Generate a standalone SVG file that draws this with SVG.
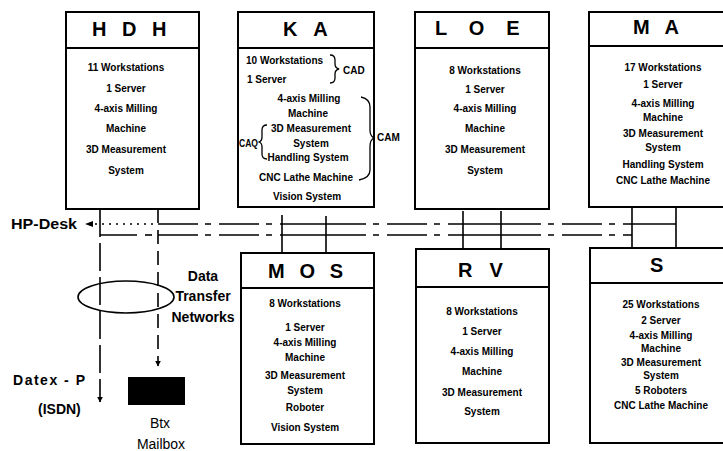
<svg xmlns="http://www.w3.org/2000/svg" width="723" height="451" viewBox="0 0 723 451">
<defs>
<style>
.box{fill:#fff;stroke:#000;stroke-width:2}
.div{stroke:#000;stroke-width:2}
.h{font-family:"Liberation Sans",Arial,sans-serif;font-weight:bold;font-size:20px;fill:#000}
.t{font-family:"Liberation Sans",Arial,sans-serif;font-weight:bold;font-size:10px;fill:#000;text-anchor:middle}
.tl{font-family:"Liberation Sans",Arial,sans-serif;font-weight:bold;font-size:10px;fill:#000}
.lab{font-family:"Liberation Sans",Arial,sans-serif;font-weight:bold;font-size:14px;fill:#000}
.reg{font-family:"Liberation Sans",Arial,sans-serif;font-size:14px;fill:#000;text-anchor:middle}
.ln{stroke:#000;stroke-width:1.6;fill:none}
.dd{stroke-dasharray:40 7 6 8}
.br{stroke:#000;stroke-width:1.3;fill:none}
</style>
<marker id="ah" viewBox="0 0 10 10" refX="9" refY="5" markerWidth="6" markerHeight="7" orient="auto" markerUnits="userSpaceOnUse">
<path d="M0,0 L10,5 L0,10 z" fill="#000"/>
</marker>
</defs>
<rect width="723" height="451" fill="#fff"/>

<g id="connectors">
<path d="M93,221 L85,224 L93,227 z" fill="#000"/>
<line class="ln" x1="95" y1="224" x2="158" y2="224" stroke-dasharray="2 5" stroke-width="1.4"/>
<line class="ln dd" x1="158" y1="224" x2="282" y2="224"/>
<line class="ln" x1="282" y1="224" x2="326" y2="224"/>
<line class="ln dd" x1="326" y1="224" x2="463" y2="224"/>
<line class="ln" x1="463" y1="224" x2="501" y2="224" stroke-width="2.2"/>
<line class="ln dd" x1="501" y1="224" x2="632" y2="224"/>
<line class="ln" x1="632" y1="224" x2="676" y2="224"/>
<line class="ln" x1="100" y1="235" x2="137" y2="235"/>
<line class="ln" x1="145" y1="235" x2="152" y2="235"/>
<line class="ln dd" x1="158" y1="235" x2="282" y2="235"/>
<line class="ln" x1="282" y1="235" x2="326" y2="235"/>
<line class="ln dd" x1="326" y1="235" x2="463" y2="235"/>
<line class="ln" x1="463" y1="235" x2="501" y2="235"/>
<line class="ln dd" x1="501" y1="235" x2="632" y2="235"/>
<line class="ln" x1="282" y1="215" x2="282" y2="253"/>
<line class="ln" x1="326" y1="216" x2="326" y2="253"/>
<line class="ln" x1="463" y1="211" x2="463" y2="249"/>
<line class="ln" x1="501" y1="211" x2="501" y2="249"/>
<line class="ln" x1="632" y1="207" x2="632" y2="248"/>
<line class="ln" x1="676" y1="207" x2="676" y2="248"/>
<line class="ln" x1="100" y1="209" x2="100" y2="402" stroke-dasharray="28 6" marker-end="url(#ah)"/>
<line class="ln" x1="158" y1="209" x2="158" y2="366" stroke-dasharray="14 7" marker-end="url(#ah)"/>
<ellipse cx="126" cy="297" rx="48" ry="16" class="ln" stroke-width="1.5"/>
</g>

<g id="labels">
<text class="lab" x="11" y="229" textLength="66" lengthAdjust="spacingAndGlyphs">HP-Desk</text>
<text class="reg" x="203" y="281" font-weight="bold">Data</text>
<text class="reg" x="203" y="301" font-weight="bold">Transfer</text>
<text class="reg" x="203" y="322" font-weight="bold">Networks</text>
<text class="lab" x="13" y="385" textLength="72" lengthAdjust="spacing">Datex - P</text>
<text class="lab" x="38" y="414">(ISDN)</text>
</g>

<g id="btx">
<rect x="128" y="377" width="57" height="28" fill="#000"/>
<text class="reg" x="160" y="428">Btx</text>
<text class="reg" x="161" y="449">Mailbox</text>
</g>

<g id="HDH">
<rect class="box" x="66" y="12" width="133" height="197"/>
<line class="div" x1="66" y1="48" x2="199" y2="48"/>
<text class="h" x="92" y="36" letter-spacing="5">H D H</text>
<text class="t" x="126" y="70.5">11 Workstations</text>
<text class="t" x="126" y="91.5">1 Server</text>
<text class="t" x="126" y="111.5">4-axis Milling</text>
<text class="t" x="126" y="131.5">Machine</text>
<text class="t" x="126" y="152.5">3D Measurement</text>
<text class="t" x="126" y="173.5">System</text>
</g>

<g id="KA">
<rect class="box" x="238" y="12" width="136" height="195"/>
<line class="div" x1="238" y1="48" x2="374" y2="48"/>
<text class="h" x="283" y="36" letter-spacing="5.5">K A</text>
<text class="tl" x="246" y="64">10 Workstations</text>
<text class="tl" x="247" y="82.5">1 Server</text>
<path class="br" d="M330,55 Q335,55 335,60 L335,64 Q335,68 339,69 Q335,70 335,74 L335,78 Q335,83 330,83"/>
<text class="tl" x="343" y="73.5">CAD</text>
<text class="t" x="309" y="101.5">4-axis Milling</text>
<text class="t" x="308" y="116.5">Machine</text>
<text class="t" x="311" y="131.5">3D Measurement</text>
<text class="t" x="311" y="146.5">System</text>
<text class="t" x="308" y="160.5">Handling System</text>
<text class="t" x="306" y="180.5">CNC Lathe Machine</text>
<text class="t" x="307" y="199.5">Vision System</text>
<path class="br" d="M267,125 Q262,125 262,130 L262,137 Q262,141 259,142 Q262,143 262,147 L262,154 Q262,159 267,159"/>
<text class="tl" x="239" y="146.5" textLength="19" lengthAdjust="spacingAndGlyphs">CAQ</text>
<path class="br" d="M361,97 Q370,99 370,107 L370,130 Q370,136 374,138 Q370,140 370,146 L370,170 Q370,178 359,180"/>
<text class="tl" x="377" y="141">CAM</text>
</g>

<g id="LOE">
<rect class="box" x="415" y="12" width="134" height="197"/>
<line class="div" x1="415" y1="48" x2="549" y2="48"/>
<text class="h" x="435" y="35" letter-spacing="8.2">L O E</text>
<text class="t" x="485" y="73.5">8 Workstations</text>
<text class="t" x="485" y="92.5">1 Server</text>
<text class="t" x="485" y="111.5">4-axis Milling</text>
<text class="t" x="485" y="131.5">Machine</text>
<text class="t" x="485" y="152.5">3D Measurement</text>
<text class="t" x="485" y="173.5">System</text>
</g>

<g id="MA">
<rect class="box" x="589" y="12" width="140" height="195"/>
<line class="div" x1="589" y1="46" x2="729" y2="46"/>
<text class="h" x="633" y="34" letter-spacing="5">M A</text>
<text class="t" x="663" y="70.5">17 Workstations</text>
<text class="t" x="663" y="87.5">1 Server</text>
<text class="t" x="663" y="106.5">4-axis Milling</text>
<text class="t" x="663" y="120.5">Machine</text>
<text class="t" x="663" y="136.5">3D Measurement</text>
<text class="t" x="663" y="150.5">System</text>
<text class="t" x="663" y="167.5">Handling System</text>
<text class="t" x="663" y="183.5">CNC Lathe Machine</text>
</g>

<g id="MOS">
<rect class="box" x="241" y="253" width="133" height="191"/>
<line class="div" x1="241" y1="288" x2="374" y2="288"/>
<text class="h" x="268" y="278" letter-spacing="4.6">M O S</text>
<text class="t" x="305" y="306.5">8 Workstations</text>
<text class="t" x="305" y="330.5">1 Server</text>
<text class="t" x="305" y="345.5">4-axis Milling</text>
<text class="t" x="305" y="360.5">Machine</text>
<text class="t" x="305" y="378.5">3D Measurement</text>
<text class="t" x="305" y="393.5">System</text>
<text class="t" x="305" y="410.5">Roboter</text>
<text class="t" x="305" y="430.5">Vision System</text>
</g>

<g id="RV">
<rect class="box" x="416" y="249" width="133" height="194"/>
<line class="div" x1="416" y1="287" x2="549" y2="287"/>
<text class="h" x="458" y="277" letter-spacing="5.8">R V</text>
<text class="t" x="482" y="314.5">8 Workstations</text>
<text class="t" x="482" y="334.5">1 Server</text>
<text class="t" x="482" y="354.5">4-axis Milling</text>
<text class="t" x="482" y="374.5">Machine</text>
<text class="t" x="482" y="395.5">3D Measurement</text>
<text class="t" x="482" y="414.5">System</text>
</g>

<g id="S">
<rect class="box" x="590" y="248" width="140" height="195"/>
<line class="div" x1="590" y1="283" x2="730" y2="283"/>
<text class="h" x="650" y="272" font-size="22">S</text>
<text class="t" x="661" y="307.5">25 Workstations</text>
<text class="t" x="661" y="323.5">2 Server</text>
<text class="t" x="661" y="338.5">4-axis Milling</text>
<text class="t" x="661" y="351.5">Machine</text>
<text class="t" x="661" y="365.5">3D Measurement</text>
<text class="t" x="661" y="378.5">System</text>
<text class="t" x="661" y="393.5">5 Roboters</text>
<text class="t" x="661" y="408.5">CNC Lathe Machine</text>
</g>
</svg>
